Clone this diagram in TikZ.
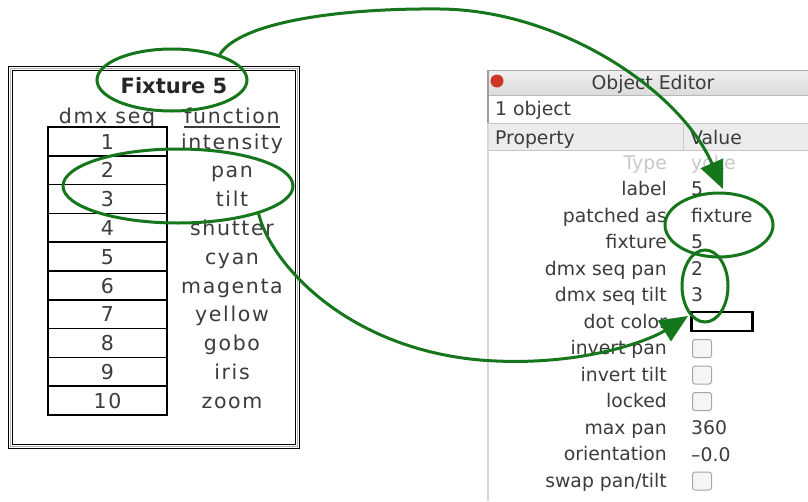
\documentclass[tikz,border=0pt]{standalone}
\usepackage{fontspec}
\usetikzlibrary{shapes.geometric,arrows.meta}
\newfontfamily\leftfont[LetterSpace=8]{DejaVu Sans}
\newfontfamily\uifont{DejaVu Sans}
\definecolor{mkgreen}{RGB}{22,118,28}
\definecolor{uigray}{RGB}{200,200,200}
\definecolor{hdrgray}{RGB}{236,236,236}
\definecolor{dotred}{RGB}{205,55,40}
\definecolor{txtgray}{RGB}{60,60,60}
\tikzset{
  lt/.style={font=\leftfont\fontsize{20.5}{22}\selectfont, text=txtgray, inner sep=0, anchor=base},
  cell/.style={draw=black, line width=1.5, minimum width=119, minimum height=28.8, inner sep=0},
  pl/.style={font=\uifont\fontsize{18.8}{21}\selectfont, text=txtgray, inner sep=0, anchor=base east},
  pv/.style={font=\uifont\fontsize{18.8}{21}\selectfont, text=txtgray, inner sep=0, anchor=base west},
  greenring/.style={ellipse, draw=mkgreen, line width=3, inner sep=0},
  link/.style={draw=mkgreen, line width=3, -{Triangle[length=28pt,width=24pt]}},
  chk/.style={draw=gray!70, fill=gray!8, rounded corners=2.5, line width=1, minimum width=19, minimum height=18, inner sep=0}
}
\begin{document}
\begin{tikzpicture}[x=1pt,y=-1pt]
\useasboundingbox (0,0) rectangle (808,501);
\fill[white] (0,0) rectangle (808,501);
% ---------- left panel ----------
\draw[black, line width=1.6] (8.5,66.5) rectangle (299.5,448.5);
\draw[gray!60, line width=1.5] (10.5,68.5) rectangle (297.5,446.5);
\draw[black, line width=1.6] (12.5,70.5) rectangle (295.5,444.5);
\node[lt, font=\uifont\bfseries\fontsize{21}{22}\selectfont, text=black!85] (title) at (174,93) {Fixture 5};
\node[lt] (hdrseq) at (107,123) {dmx seq};
\node[lt] (hdrfn) at (232,123) {function};
\draw[txtgray, line width=1.3] ([yshift=-4]hdrfn.base west) -- ([yshift=-4]hdrfn.base east);
\foreach \n/\f [count=\i from 0] in {1/intensity,2/pan,3/tilt,4/shutter,5/cyan,6/magenta,7/yellow,8/gobo,9/iris,10/zoom}{
  \node[cell] (c\n) at (107.5,{141.4+28.8*\i}) {};
  \node[lt] (n\n) at (107.5,{149+28.8*\i}) {\n};
  \node[lt] (f\n) at (232,{149+28.8*\i}) {\f};
}
% ---------- object editor ----------
\shade[top color=gray!12, bottom color=gray!28] (487,70) rectangle (812,95);
\draw[gray!70, line width=1] (487,70) -- (812,70);
\draw[gray!55, line width=1] (487,95) -- (812,95);
\fill[dotred] (497,81) circle (6.5);
\node[pv, anchor=base] (wtitle) at (653,89) {Object Editor};
\node[pv] (objs) at (495,115) {1 object};
\draw[gray!45, line width=1] (487,123) -- (812,123);
\fill[hdrgray] (487,124) rectangle (812,150);
\draw[gray!45, line width=1] (487,150.5) -- (812,150.5);
\draw[gray!40, line width=1] (683,124) -- (683,150);
\node[pv] (hprop) at (495,144) {Property};
\node[pv] (hval) at (690,144) {Value};
\draw[gray!75, line width=2] (488,70) -- (488,123);
\draw[gray!30, line width=1.5] (488,123) -- (488,501);
% rows
\node[pl, text=uigray] (lType) at (667,169) {Type};
\node[pv, text=uigray] (vType) at (691,169) {yoke};
\foreach \k/\lab [count=\i from 1] in {label/label,patched/patched as,fixture/fixture,pan/dmx seq pan,tilt/dmx seq tilt,dot/dot color,ipan/invert pan,itilt/invert tilt,locked/locked,maxpan/max pan,orient/orientation}{
  \node[pl] (l\k) at (667,{169+26.5*\i}) {\lab};
}
\node[pl] (lswap) at (667,487) {swap pan/tilt};
\node[pv] (vlabel) at (691,195.5) {5};
\node[pv] (vpatched) at (691,222) {fixture};
\node[pv] (vfixture) at (691,248.5) {5};
\node[pv] (vpan) at (691,275) {2};
\node[pv] (vtilt) at (691,301.5) {3};
\node[draw=black, line width=2.6, minimum width=61, minimum height=19, inner sep=0] (vdot) at (722,321.5) {};
\node[chk] (vipan) at (702,348.5) {};
\node[chk] (vitilt) at (702,375) {};
\node[chk] (vlocked) at (702,401.5) {};
\node[pv] (vmaxpan) at (691,434.5) {360};
\node[pv] (vorient) at (691,461) {–0.0};
\node[chk] (vswap) at (702,481) {};
% ---------- green marks ----------
\node[greenring, minimum width=150, minimum height=62] (e1) at (172,80) {};
\node[greenring, minimum width=230, minimum height=74] (e2) at (178,186) {};
\node[greenring, minimum width=108, minimum height=64] (e4) at (719,225) {};
\node[greenring, minimum width=46, minimum height=72] (e3) at (705,286) {};
\coordinate (t1) at (723,189);
\coordinate (t2) at (688,316);
\draw[link] (e1.28) .. controls (240,22) and (340,8) .. (440,9) .. controls (560,10) and (680,90) .. (t1);
\draw[link] (e2.-19) .. controls (270,262) and (345,348) .. (480,360) .. controls (580,368) and (650,340) .. (t2);
\end{tikzpicture}
\end{document}
